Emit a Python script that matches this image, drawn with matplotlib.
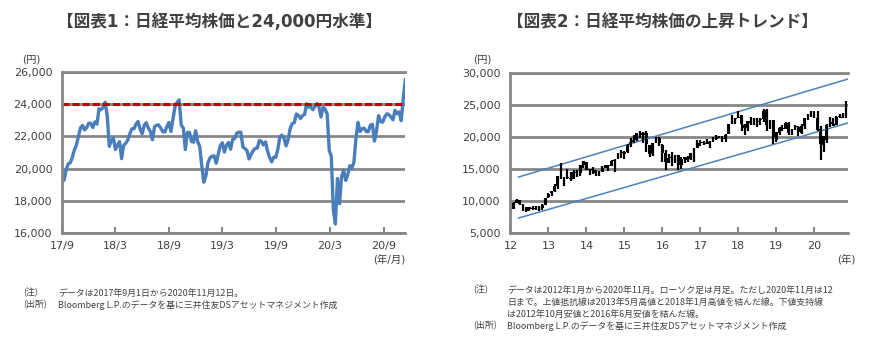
import matplotlib
matplotlib.use('Agg')
import matplotlib.pyplot as plt
import pandas as pd

plt.rcParams['font.family'] = ['DejaVu Sans', 'Noto Sans CJK JP']

# ---- 図表1: 日経平均 (週次で読み取り) ----
nk_week = [
    19691, 19275, 19909, 20296, 20356, 20691, 21155, 21457, 22008, 22539,
    22681, 22397, 22550, 22819, 22811, 22553, 22902, 22765,
    23715, 23653, 23808, 24124, 23274, 21382, 21720, 21892, 21182, 21469,
    21676, 20617, 21454, 21567, 21778, 22162, 22468, 22473, 22758, 22930,
    22450, 22171, 22694, 22851, 22516, 22305, 21788, 22597, 22697, 22712,
    22525, 22298, 22270, 22601, 22865, 22307, 23094, 23869, 24120, 24270,
    22694, 22532, 21184, 22243, 22250, 21680, 21646, 22351, 21679, 21374,
    20166, 19155,
    19562, 20359, 20666, 20774, 20788, 20333, 20900, 21426, 21602, 21025,
    21450, 21627, 21205, 21807, 21870, 22200, 22258, 22258, 21344, 21250,
    21117, 20601, 20884, 21116, 21258, 21275, 21746, 21685, 21466, 21658,
    21087, 20684, 20418, 20710, 20704, 21199, 21988, 22079, 21878, 21410,
    21799, 22493, 22800, 22851, 23392, 23303, 23113, 23294, 23354, 24023,
    23816, 23837,
    23657, 23850, 24041, 23827, 23205, 23828, 23688, 23386, 21143, 20750,
    17431, 16553, 19389, 17820, 19498, 19897, 19262, 19619, 20179, 20037,
    20388, 21878, 22864, 22305, 22478, 22512, 22306, 22291, 22696, 22751,
    21710, 22329, 23289, 22920, 22882, 23205, 23406, 23360, 23205, 23030,
    23620, 23410, 23516, 22977, 24325, 25520,
]
nk_dates = pd.date_range('2017-09-01', periods=len(nk_week), freq='W-FRI')
level_line = 24000
ticks1 = ['2017-09-01', '2018-03-01', '2018-09-01', '2019-03-01',
          '2019-09-01', '2020-03-01', '2020-09-01']
ticklabels1 = ['17/9', '18/3', '18/9', '19/3', '19/9', '20/3', '20/9']

# ---- 図表2: 月足 (2012/1 - 2020/11) ----
c_open = [
    8550, 8800, 9700, 10100, 9400, 8500, 9000, 8700, 8800, 8800, 8900, 9450,
    10600, 11200, 11500, 12400, 13800, 13700, 13700, 13600, 13500, 14500, 14300, 15700,
    16100, 14900, 14800, 14800, 14300, 14600, 15200, 15600, 15500, 16200, 16800, 17500,
    17400, 17600, 18800, 19200, 19600, 20600, 20300, 20600, 18800, 17400, 19100, 19800,
    18800, 17500, 16000, 16700, 16400, 17200, 15600, 16600, 16900, 16500, 17400, 18300,
    19100, 19000, 19100, 18900, 19300, 19700, 20000, 19900, 19700, 20400, 22400, 22900,
    23000, 23400, 21900, 21400, 22500, 22200, 22300, 22700, 22800, 24200, 22000, 22600,
    19600, 20700, 21400, 21300, 22200, 20500, 21600, 21500, 20600, 21700, 22900, 23400,
    23300, 23000, 21300, 18700, 19600, 22000, 22100, 21900, 23100, 23200, 23000,
]
c_high = [
    8840, 9870, 10255, 10190, 9500, 9100, 9100, 9220, 9290, 9180, 9460, 10430,
    11190, 11500, 12650, 13900, 15942, 13800, 14950, 14470, 14820, 14800, 15700, 16320,
    16160, 14950, 15300, 14900, 14700, 15400, 15650, 15600, 16380, 16530, 17500, 18030,
    17850, 18830, 19780, 20250, 20600, 20950, 20850, 20950, 18800, 19100, 20010, 20000,
    18950, 17900, 17290, 17600, 17250, 17250, 16900, 16900, 17100, 17450, 18300, 19600,
    19600, 19450, 19670, 19300, 19960, 20300, 20200, 20100, 20400, 22000, 23380, 23000,
    24124, 23500, 22000, 22500, 23050, 23000, 22950, 22900, 24300, 24450, 22700, 22700,
    20700, 21500, 21860, 22360, 22300, 21300, 21800, 21700, 22100, 22900, 23600, 24100,
    24100, 23995, 21700, 20200, 22000, 23200, 22900, 23340, 23600, 23700, 25560,
]
c_low = [
    8350, 8800, 9700, 9380, 8500, 8240, 8360, 8600, 8540, 8490, 8620, 9400,
    10400, 10850, 11400, 11800, 13500, 12415, 13500, 13190, 13500, 13750, 13950, 15200,
    14900, 13990, 14200, 13900, 13960, 14600, 15100, 14750, 15400, 14530, 16600, 16670,
    16590, 17500, 18500, 19000, 19300, 19900, 19100, 17700, 16900, 17000, 19000, 18560,
    16020, 14860, 15990, 15470, 16000, 14864, 15000, 16000, 16100, 16400, 16100, 18300,
    18650, 18800, 18900, 18220, 19200, 19500, 19800, 19250, 19240, 20400, 21970, 22100,
    23000, 20950, 20350, 20900, 21900, 21900, 21500, 21850, 22300, 20970, 21200, 18950,
    19240, 20300, 20900, 21200, 20300, 20300, 21100, 20100, 20400, 21300, 22700, 23100,
    22900, 20900, 16358, 17650, 19000, 21500, 21700, 21800, 22900, 22900, 22950,
]
c_close = [
    8802, 9723, 10083, 9520, 8543, 9007, 8695, 8840, 8870, 8928, 9446, 10395,
    11138, 11559, 12398, 13861, 13775, 13677, 13668, 13389, 14456, 14327, 15662, 16291,
    14915, 14841, 14828, 14304, 14632, 15162, 15621, 15425, 16173, 16414, 17459, 17450,
    17674, 18797, 19206, 19520, 20563, 20236, 20585, 18890, 17388, 19083, 19747, 19033,
    17518, 16026, 16758, 16666, 17234, 15575, 16569, 16887, 16450, 17425, 18308, 19114,
    19041, 19119, 18909, 19197, 19650, 20033, 19925, 19646, 20356, 22011, 22725, 22765,
    23098, 22068, 21454, 22468, 22202, 22305, 22554, 22865, 24120, 21920, 22351, 20015,
    20773, 21385, 21206, 22259, 20601, 21276, 21522, 20704, 21756, 22927, 23294, 23657,
    23205, 21143, 18917, 20194, 21878, 22288, 21710, 23140, 23185, 22977, 25520,
]
months = pd.date_range('2012-01-01', periods=len(c_close), freq='MS')
ticks2 = [pd.Timestamp(f'{y}-01-01') for y in range(2012, 2021)]
ticklabels2 = [str(y % 100) for y in range(2012, 2021)]
# 上値抵抗線 / 下値支持線 (端点)
trend_x = [pd.Timestamp('2012-03-20'), pd.Timestamp('2020-11-20')]
upper_line = [13750, 29060]
lower_line = [7340, 22190]

grey = '#878787'
txt = '#404040'
W, H = 885, 342
fig = plt.figure(figsize=(W / 100, H / 100), dpi=100)


def fx(px):
    return px / W


def fy(py):
    return 1 - py / H


def style(ax):
    for s in ['left', 'bottom', 'top']:
        ax.spines[s].set_color(grey)
        ax.spines[s].set_linewidth(2)
    ax.spines['right'].set_visible(False)
    ax.grid(axis='y', color=grey, lw=2)
    ax.set_axisbelow(True)
    ax.tick_params(axis='y', length=0, labelsize=8, labelcolor=txt, pad=7)
    ax.tick_params(axis='x', direction='in', length=4, width=1.5, color=grey,
                   labelsize=8, labelcolor=txt, pad=6)


# 図表1
ax1 = fig.add_axes([fx(62), fy(233), fx(405 - 62), fy(72) - fy(233)])
ax1.plot(nk_dates, nk_week, color='#4a7ebb', lw=2.4)
ax1.axhline(level_line, color='#c00000', lw=2.2, ls=(0, (2.3, 1.0)))
ax1.set_ylim(16000, 26000)
ax1.set_yticks(range(16000, 26001, 2000))
ax1.set_yticklabels([f'{v:,}' for v in range(16000, 26001, 2000)])
ax1.set_xlim(pd.Timestamp('2017-09-01'), pd.Timestamp('2020-11-12'))
ax1.set_xticks([pd.Timestamp(t) for t in ticks1])
ax1.set_xticklabels(ticklabels1)
style(ax1)

# 図表2
ax2 = fig.add_axes([fx(510), fy(233), fx(848 - 510), fy(73) - fy(233)])
ax2.plot(trend_x, upper_line, color='#4f81bd', lw=1.1)
ax2.plot(trend_x, lower_line, color='#4f81bd', lw=1.1)
ax2.vlines(months, c_low, c_high, color='black', lw=1.6)
body_lo = [min(a, b) for a, b in zip(c_open, c_close)]
body_h = [max(abs(b - a), 150) for a, b in zip(c_open, c_close)]
ax2.bar(months, body_h, bottom=body_lo, width=27, color='black', lw=0)
ax2.set_ylim(5000, 30000)
ax2.set_yticks(range(5000, 30001, 5000))
ax2.set_yticklabels([f'{v:,}' for v in range(5000, 30001, 5000)])
ax2.set_xlim(pd.Timestamp('2011-12-28'), pd.Timestamp('2020-11-20'))
ax2.set_xticks(ticks2)
ax2.set_xticklabels(ticklabels2)
style(ax2)

# タイトル
fig.text(fx(220), fy(22), '【図表1：日経平均株価と24,000円水準】', ha='center',
         va='center', fontsize=12, fontweight='bold', color=txt)
fig.text(fx(662), fy(22), '【図表2：日経平均株価の上昇トレンド】', ha='center',
         va='center', fontsize=12, fontweight='bold', color=txt)

# 単位
fig.text(fx(22), fy(60), '(円)', ha='left', va='center', fontsize=7.5, color=txt)
fig.text(fx(473), fy(60), '(円)', ha='left', va='center', fontsize=7.5, color=txt)
fig.text(fx(405), fy(259), '(年/月)', ha='right', va='center', fontsize=7.5, color=txt)
fig.text(fx(855), fy(259), '(年)', ha='right', va='center', fontsize=7.5, color=txt)

# 注記 (CJKフォントで幅を合わせる)
fs = 6.4
nf = ['Noto Sans CJK JP']
fig.text(fx(23), fy(293), '(注)', va='center', fontsize=fs, color=txt, family=nf)
fig.text(fx(58), fy(293), 'データは2017年9月1日から2020年11月12日。', va='center',
         fontsize=fs, color=txt, family=nf)
fig.text(fx(23), fy(305), '(出所)', va='center', fontsize=fs, color=txt, family=nf)
fig.text(fx(58), fy(305), 'Bloomberg L.P.のデータを基に三井住友DSアセットマネジメント作成',
         va='center', fontsize=fs, color=txt, family=nf)

notes2 = [
    'データは2012年1月から2020年11月。ローソク足は月足。ただし2020年11月は12',
    '日まで。上値抵抗線は2013年5月高値と2018年1月高値を結んだ線。下値支持線',
    'は2012年10月安値と2016年6月安値を結んだ線。',
]
fig.text(fx(473), fy(290), '(注)', va='center', fontsize=fs, color=txt, family=nf)
for i, line in enumerate(notes2):
    fig.text(fx(507), fy(290 + 12 * i), line, va='center', fontsize=fs,
             color=txt, family=nf)
fig.text(fx(473), fy(326), '(出所)', va='center', fontsize=fs, color=txt, family=nf)
fig.text(fx(507), fy(326), 'Bloomberg L.P.のデータを基に三井住友DSアセットマネジメント作成',
         va='center', fontsize=fs, color=txt, family=nf)

fig.savefig('out.png', dpi=100)
